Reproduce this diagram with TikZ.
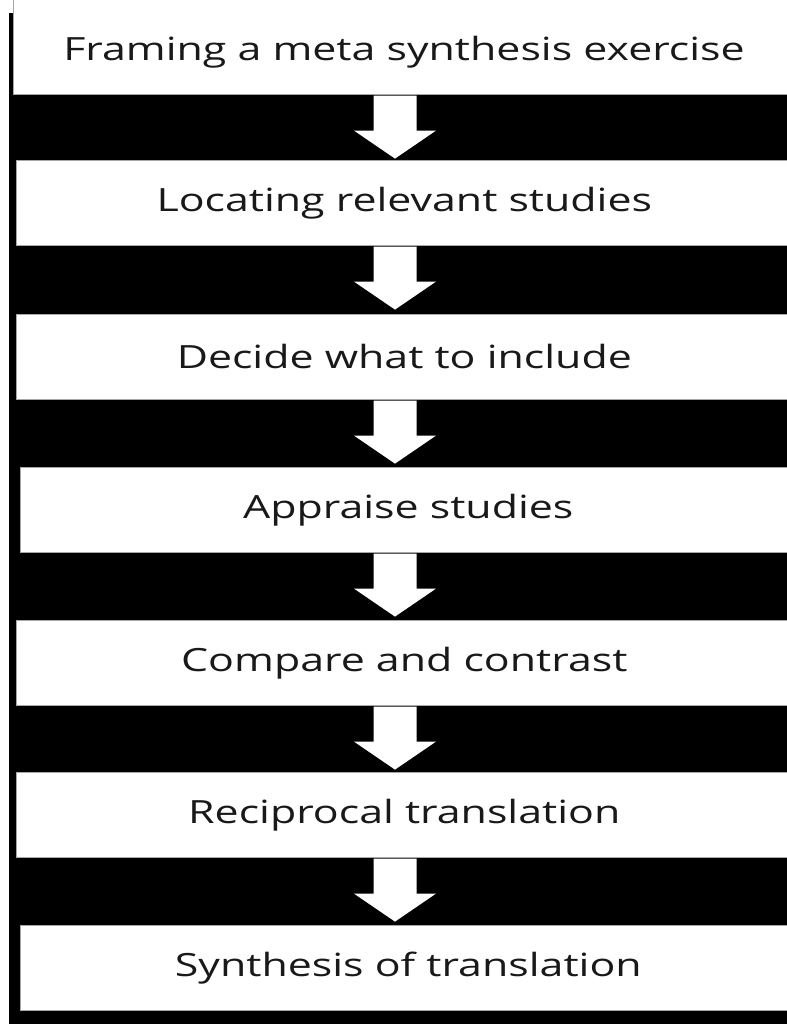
\documentclass[tikz,border=0pt]{standalone}
\usepackage{fontspec}
\setmainfont[FakeStretch=1.34]{Open Sans}
\usetikzlibrary{calc}
\tikzset{
  stepfont/.style={font=\fontsize{32bp}{38bp}\selectfont, text=black!90},
  stepbox/.style={draw=gray!70, line width=0.6bp, fill=white, anchor=north west,
    minimum width=776bp, minimum height=85bp, inner sep=0pt, stepfont},
  blockarrow/.style={fill=white, draw=none},
}
\newcommand{\flowarrow}[2]{%
  \begin{scope}[shift={(#1.south -| ax)}]
    \fill[blockarrow] (-21.5,1) -- (21.5,1) -- (21.5,36) -- (41,36) -- (0,64) -- (-41,36) -- (-21.5,36) -- cycle;
  \end{scope}}
\begin{document}
\begin{tikzpicture}[x=1bp, y=-1bp]
\useasboundingbox (0,0) rectangle (787,1024);
\fill[white] (0,0) rectangle (787,1024);
\fill[black] (9,13) rectangle (800,1030);
\coordinate (ax) at (395,0);
\node[stepbox, minimum height=100bp, minimum width=787bp] (b1) at (13,-6) {};
\node[stepfont] (t1) at (404,52) {Framing a meta synthesis exercise};
\node[stepbox] (b2) at (16,160) {Locating relevant studies};
\node[stepbox] (b3) at (16,314) {Decide what to include};
\node[stepbox] (b4) at (20,467) {Appraise studies};
\node[stepbox] (b5) at (16,620) {Compare and contrast};
\node[stepbox] (b6) at (16,772) {Reciprocal translation};
\node[stepbox] (b7) at (20,925) {Synthesis of translation};
\flowarrow{b1}{b2}
\flowarrow{b2}{b3}
\flowarrow{b3}{b4}
\flowarrow{b4}{b5}
\flowarrow{b5}{b6}
\flowarrow{b6}{b7}
\end{tikzpicture}
\end{document}
